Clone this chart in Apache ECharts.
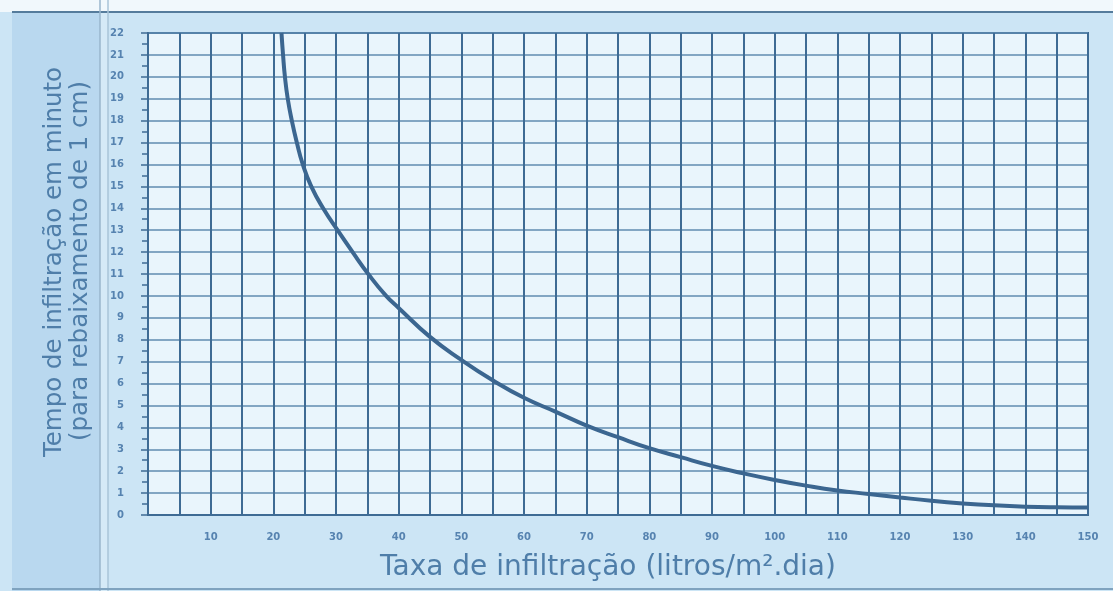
<!DOCTYPE html>
<html>
<head>
<meta charset="utf-8">
<script src="https://cdn.jsdelivr.net/npm/echarts@6/dist/echarts.min.js"></script>
<style>
html,body{margin:0;padding:0;background:#cce5f5;}
#chart{width:1113px;height:591px;}
</style>
</head>
<body>
<div id="chart"></div>
<script>
// Data
const taxa = [21.3, 21.55, 21.85, 22.3, 22.95, 23.75, 24.7, 26.05, 27.95, 30.25, 32.65, 35.15, 38.0, 40, 45, 50, 55, 60, 65, 70, 75, 80, 85, 90, 95, 100, 105, 110, 115, 120, 125, 130, 135, 140, 145, 150];
const tempo = [22, 21, 20, 19, 18, 17, 16, 15, 14, 13, 12, 11, 10, 9.45, 8.13, 7.08, 6.15, 5.35, 4.72, 4.08, 3.55, 3.05, 2.64, 2.24, 1.9, 1.6, 1.34, 1.12, 0.96, 0.8, 0.65, 0.53, 0.44, 0.38, 0.35, 0.34];
const xTickLabels = ['10','20','30','40','50','60','70','80','90','100','110','120','130','140','150'];
const xAxisTitle = 'Taxa de infiltração (litros/m².dia)';
const yAxisTitle1 = 'Tempo de infiltração em minuto';
const yAxisTitle2 = '(para rebaixamento de 1 cm)';

const points = taxa.map((x, i) => [x, tempo[i]]);
const chart = echarts.init(document.getElementById('chart'));
const titleColor = '#4f7ea9';
const tickColor = '#5683b0';
const gridDark = '#3e6b94';
chart.setOption({
  backgroundColor: '#cce5f5',
  animation: false,
  graphic: [
    { type: 'rect', z: -10, shape: { x: 0, y: 0, width: 1113, height: 12 }, style: { fill: '#f1f8fc' } },
    { type: 'rect', z: -9, shape: { x: 12, y: 12, width: 88, height: 579 }, style: { fill: '#b9d8ef' } },
    { type: 'rect', z: -9, shape: { x: 100, y: 12, width: 8, height: 579 }, style: { fill: '#d5eaf7' } },
    { type: 'line', z: -8, shape: { x1: 12, y1: 12, x2: 1113, y2: 12 }, style: { stroke: '#557c9c', lineWidth: 2 } },
    { type: 'line', z: -8, shape: { x1: 100, y1: 0, x2: 100, y2: 591 }, style: { stroke: '#98b6cc', lineWidth: 1.5 } },
    { type: 'line', z: -8, shape: { x1: 108, y1: 0, x2: 108, y2: 591 }, style: { stroke: '#a9c4d8', lineWidth: 1.5 } },
    { type: 'line', z: -8, shape: { x1: 12, y1: 589, x2: 1113, y2: 589 }, style: { stroke: '#7fa3bf', lineWidth: 2 } },
    { type: 'text', x: 55, y: 262, rotation: Math.PI / 2,
      style: { text: yAxisTitle1, fill: titleColor, font: '24.5px "DejaVu Sans", sans-serif', textAlign: 'center', textVerticalAlign: 'middle' } },
    { type: 'text', x: 81, y: 261, rotation: Math.PI / 2,
      style: { text: yAxisTitle2, fill: titleColor, font: '24.5px "DejaVu Sans", sans-serif', textAlign: 'center', textVerticalAlign: 'middle' } },
    { type: 'text', x: 608, y: 568,
      style: { text: xAxisTitle, fill: titleColor, font: '28px "DejaVu Sans", sans-serif', textAlign: 'center', textVerticalAlign: 'middle' } }
  ],
  grid: { left: 148, right: 25, top: 33, bottom: 76, show: true, backgroundColor: '#e9f5fc', borderColor: gridDark, borderWidth: 2 },
  xAxis: {
    type: 'value', min: 0, max: 150, interval: 5,
    axisLine: { show: true, lineStyle: { color: gridDark, width: 2 } },
    axisTick: { show: false },
    splitLine: { show: true, lineStyle: { color: gridDark, width: 2 } },
    axisLabel: {
      margin: 17, color: tickColor, fontSize: 10, fontWeight: 'bold', fontFamily: '"DejaVu Sans", sans-serif',
      formatter: v => xTickLabels.includes(String(v)) ? String(v) : ''
    }
  },
  yAxis: {
    type: 'value', min: 0, max: 22, interval: 1,
    axisLine: { show: true, lineStyle: { color: gridDark, width: 2 } },
    axisTick: { show: true, length: 7, lineStyle: { color: gridDark, width: 1.5 } },
    minorTick: { show: true, splitNumber: 2, length: 6, lineStyle: { color: gridDark, width: 1.5 } },
    splitLine: { show: true, lineStyle: { color: '#5f8bb1', width: 1.5 } },
    axisLabel: { margin: 24, color: tickColor, fontSize: 10, fontWeight: 'bold', fontFamily: '"DejaVu Sans", sans-serif' }
  },
  series: [{
    type: 'line', data: points, smooth: true, showSymbol: false,
    lineStyle: { color: '#3b6690', width: 4 }, z: 5
  }]
});
</script>
</body>
</html>
